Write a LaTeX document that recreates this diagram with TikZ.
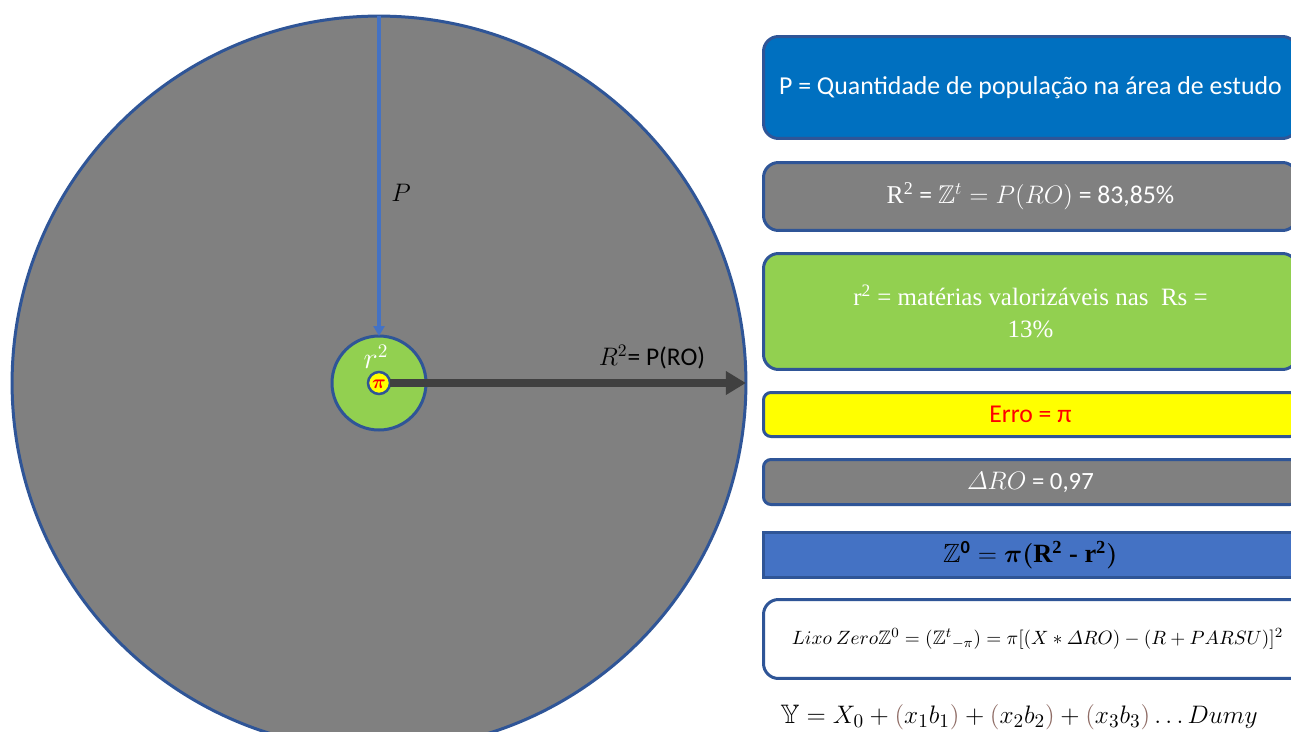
\documentclass[tikz,border=0pt]{standalone}
\usepackage{amsmath,amssymb}
\usepackage{fontspec}
\setmainfont{Carlito}
\newfontfamily\tnr{Liberation Serif}
\usetikzlibrary{arrows.meta}
\definecolor{bord}{HTML}{2F5597}
\definecolor{bgray}{HTML}{808080}
\definecolor{bblue}{HTML}{0070C0}
\definecolor{bgreen}{HTML}{92D050}
\definecolor{byellow}{HTML}{FFFF00}
\definecolor{zblue}{HTML}{4472C4}
\definecolor{darr}{HTML}{404040}
\definecolor{parcol}{HTML}{8E6B64}
\tikzset{
  infobox/.style={draw=bord, line width=0.06cm, rounded corners=0.3cm, anchor=north west, minimum width=10.68cm, inner sep=0pt, align=center},
  ring/.style={circle, draw=bord, line width=0.06cm, inner sep=0pt, outer sep=0pt},
}
\begin{document}
\begin{tikzpicture}[x=0.02cm,y=-0.02cm]
\useasboundingbox (0,0) rectangle (1291,731);
\clip (0,0) rectangle (1291,731);
\fill[white] (0,0) rectangle (1291,731);
% circles
\node[ring, fill=bgray, minimum size=14.68cm] (big) at (379,383) {};
\node[ring, fill=bgreen, minimum size=1.88cm] (green) at (379,383) {};
\node[ring, fill=byellow, minimum size=0.44cm, line width=0.05cm] (pi) at (379,383) {};
\node[text=red, inner sep=0pt, font=\fontsize{11}{11}\selectfont] (pitxt) at (379,384) {$\boldsymbol{\pi}$};
\node[text=white, inner sep=0pt, font=\fontsize{16}{16}\selectfont] (r2) at (376,357) {$r^2$};
% arrows
\draw[zblue, line width=0.08cm, -{Triangle[length=0.2cm,width=0.22cm]}] (big.north) -- (green.north);
\draw[darr, line width=0.15cm, -{Triangle[length=0.4cm,width=0.45cm]}] (pi.east) -- (big.east);
\node[font=\fontsize{15}{15}\selectfont] (plab) at (401,193) {$P$};
\node[font=\fontsize{14.5}{15}\selectfont] (rlab) at (652,357) {$R^2$= P(RO)};
% boxes
\node[infobox, fill=bblue, minimum height=2.04cm, text=white, font=\fontsize{14.7}{16}\selectfont] (b1) at (762,35) {P = Quantidade de população na área de estudo};
\node[infobox, fill=bgray, minimum height=1.36cm, text=white, font=\fontsize{14.6}{16}\selectfont] (b2) at (762,161) {{\tnr R\textsuperscript{2}} = $\mathbb{Z}^t = P(RO)$ = 83,85\%};
\node[infobox, fill=bgreen, minimum height=2.32cm, text=white, font=\tnr\fontsize{14.2}{18}\selectfont] (b3) at (762,252) {r\textsuperscript{2} = matérias valorizáveis nas~~Rs =\\13\%};
\node[infobox, fill=byellow, minimum height=0.88cm, text=red, font=\fontsize{14.6}{16}\selectfont, rounded corners=0.15cm] (b4) at (762,391) {Erro = π};
\node[infobox, fill=bgray, minimum height=0.9cm, text=white, font=\fontsize{14.1}{16}\selectfont, rounded corners=0.15cm] (b5) at (762,458) {$\varDelta RO$ = 0,97};
\node[infobox, fill=zblue, minimum height=0.9cm, text=black, font=\tnr\bfseries\fontsize{15}{16}\selectfont, sharp corners, line width=0.05cm] (b6) at (762,531) {$\mathbb{Z}^{\mathbf{0}} = \boldsymbol{\pi}\boldsymbol{(}$R\textsuperscript{2} - r\textsuperscript{2}$\boldsymbol{)}$};
\node[infobox, fill=white, minimum height=1.58cm, text=black, font=\fontsize{11.1}{13}\selectfont, minimum width=10.96cm] (b7) at (762,598) {$Lixo\ Zero\mathbb{Z}^0=(\mathbb{Z}^t{}_{-\pi}) = \pi[(X*\varDelta RO)-(R+PARSU)]^2$};
\node[font=\fontsize{15.2}{16}\selectfont, anchor=west, inner sep=0pt] (yf) at (780,717) {$\mathbb{Y}=X_0+\textcolor{parcol}{(}x_1b_1\textcolor{parcol}{)}+\textcolor{parcol}{(}x_2b_2\textcolor{parcol}{)}+\textcolor{parcol}{(}x_3b_3\textcolor{parcol}{)}\ldots Dumy$};
\end{tikzpicture}
\end{document}
